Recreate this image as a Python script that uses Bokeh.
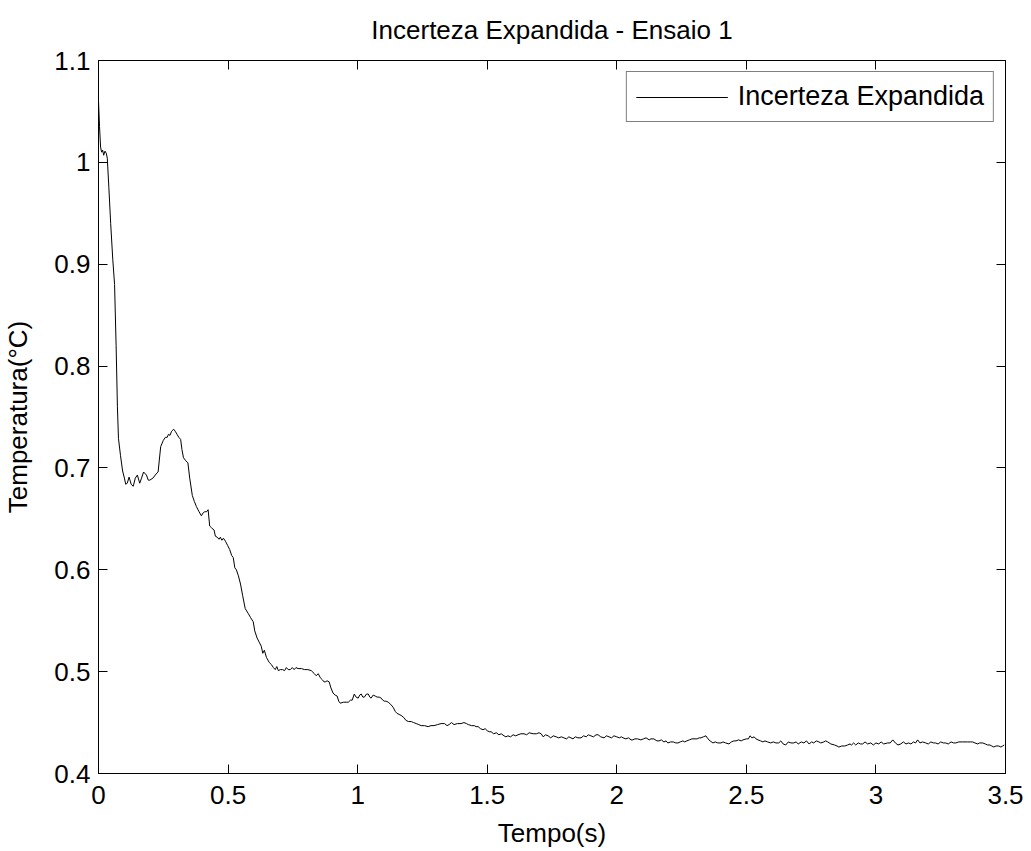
from bokeh.plotting import figure
from bokeh.models import Range1d, LinearAxis, FixedTicker, Legend, LegendItem, CustomLabelingPolicy
from bokeh.embed import file_html
from bokeh.resources import INLINE

title_text = "Incerteza Expandida - Ensaio 1"
x_label = "Tempo(s)"
y_label = "Temperatura(°C)"
series_name = "Incerteza Expandida"

x_ticks = [0, 0.5, 1, 1.5, 2, 2.5, 3, 3.5]
x_tick_labels = ["0", "0.5", "1", "1.5", "2", "2.5", "3", "3.5"]
y_ticks = [0.4, 0.5, 0.6, 0.7, 0.8, 0.9, 1.0, 1.1]
y_tick_labels = ["0.4", "0.5", "0.6", "0.7", "0.8", "0.9", "1", "1.1"]

tempo = [
    0.000, 0.004, 0.008, 0.012, 0.016, 0.020, 0.025, 0.030, 0.034, 0.040,
    0.047, 0.055, 0.062, 0.068, 0.073, 0.077, 0.085, 0.093, 0.100, 0.105,
    0.111, 0.118, 0.126, 0.134, 0.142, 0.150, 0.159, 0.166, 0.174, 0.185,
    0.192, 0.198, 0.210, 0.222, 0.230, 0.240, 0.250, 0.258, 0.265, 0.270,
    0.276, 0.282, 0.290, 0.296, 0.303, 0.310, 0.317, 0.322, 0.328, 0.337,
    0.345, 0.352, 0.362, 0.370, 0.378, 0.388, 0.397, 0.404, 0.410, 0.417,
    0.423, 0.429, 0.437, 0.446, 0.451, 0.458, 0.465, 0.470, 0.476, 0.482,
    0.490, 0.498, 0.506, 0.514, 0.520, 0.526, 0.532, 0.540, 0.548, 0.556,
    0.566, 0.578, 0.587, 0.597, 0.603, 0.612, 0.620, 0.628, 0.634, 0.640,
    0.648, 0.659, 0.667, 0.675, 0.682, 0.688, 0.694, 0.702, 0.710, 0.718,
    0.725, 0.732, 0.740, 0.748, 0.755, 0.762, 0.770, 0.783, 0.795, 0.808,
    0.821, 0.833, 0.840, 0.848, 0.856, 0.864, 0.870, 0.875, 0.882, 0.890,
    0.897, 0.905, 0.913, 0.921, 0.927, 0.933, 0.945, 0.956, 0.964, 0.972,
    0.979, 0.987, 0.994, 1.002, 1.008, 1.014, 1.020, 1.026, 1.034, 1.041,
    1.047, 1.052, 1.060, 1.068, 1.075, 1.083, 1.091, 1.097, 1.103, 1.110,
    1.118, 1.127, 1.137, 1.145, 1.152, 1.160, 1.168, 1.178, 1.187, 1.197,
    1.207, 1.216, 1.226, 1.236, 1.245, 1.258, 1.272, 1.283, 1.295, 1.308,
    1.322, 1.335, 1.345, 1.353, 1.362, 1.372, 1.385, 1.399, 1.410, 1.420,
    1.427, 1.440, 1.450, 1.457, 1.465, 1.474, 1.484, 1.492, 1.500, 1.508,
    1.515, 1.525, 1.535, 1.545, 1.554, 1.565, 1.572, 1.580, 1.590, 1.600,
    1.610, 1.619, 1.630, 1.642, 1.652, 1.662, 1.677, 1.690, 1.700, 1.708,
    1.716, 1.725, 1.735, 1.745, 1.755, 1.766, 1.776, 1.786, 1.796, 1.806,
    1.815, 1.823, 1.831, 1.840, 1.850, 1.862, 1.872, 1.882, 1.890, 1.900,
    1.910, 1.920, 1.928, 1.938, 1.951, 1.960, 1.970, 1.980, 1.989, 2.000,
    2.010, 2.018, 2.024, 2.035, 2.045, 2.055, 2.062, 2.070, 2.080, 2.093,
    2.103, 2.113, 2.125, 2.132, 2.143, 2.155, 2.163, 2.172, 2.182, 2.190,
    2.197, 2.208, 2.218, 2.228, 2.236, 2.245, 2.255, 2.262, 2.270, 2.280,
    2.290, 2.298, 2.310, 2.318, 2.325, 2.334, 2.344, 2.352, 2.360, 2.371,
    2.380, 2.390, 2.402, 2.410, 2.420, 2.433, 2.442, 2.452, 2.460, 2.470,
    2.480, 2.487, 2.500, 2.508, 2.514, 2.522, 2.530, 2.537, 2.545, 2.555,
    2.564, 2.572, 2.582, 2.594, 2.604, 2.614, 2.625, 2.633, 2.642, 2.652,
    2.662, 2.672, 2.683, 2.692, 2.700, 2.712, 2.722, 2.732, 2.742, 2.752,
    2.760, 2.770, 2.780, 2.787, 2.799, 2.806, 2.814, 2.826, 2.840, 2.850,
    2.857, 2.868, 2.880, 2.891, 2.900, 2.906, 2.914, 2.922, 2.932, 2.940,
    2.949, 2.958, 2.968, 2.980, 2.990, 3.000, 3.011, 3.020, 3.030, 3.045,
    3.055, 3.065, 3.075, 3.085, 3.096, 3.106, 3.116, 3.126, 3.135, 3.145,
    3.153, 3.161, 3.170, 3.180, 3.192, 3.202, 3.212, 3.222, 3.230, 3.240,
    3.250, 3.260, 3.269, 3.279, 3.290, 3.300, 3.308, 3.320, 3.335, 3.354,
    3.365, 3.373, 3.382, 3.393, 3.400, 3.412, 3.422, 3.431, 3.440, 3.447,
    3.455, 3.463, 3.474, 3.482, 3.489, 3.495,
]

incerteza = [
    1.060, 1.035, 1.015, 1.010, 1.012, 1.007, 1.011, 1.009, 1.004, 0.975,
    0.940, 0.905, 0.880, 0.820, 0.760, 0.729, 0.712, 0.697, 0.690, 0.684,
    0.685, 0.691, 0.684, 0.682, 0.690, 0.693, 0.685, 0.690, 0.696, 0.693,
    0.688, 0.688, 0.690, 0.694, 0.696, 0.721, 0.727, 0.730, 0.730, 0.733,
    0.732, 0.736, 0.738, 0.736, 0.733, 0.730, 0.728, 0.718, 0.710, 0.707,
    0.705, 0.690, 0.673, 0.667, 0.662, 0.657, 0.653, 0.656, 0.657, 0.657,
    0.659, 0.643, 0.641, 0.639, 0.633, 0.632, 0.630, 0.632, 0.629, 0.631,
    0.628, 0.624, 0.620, 0.614, 0.612, 0.602, 0.600, 0.594, 0.586, 0.575,
    0.562, 0.557, 0.553, 0.549, 0.540, 0.533, 0.529, 0.525, 0.518, 0.521,
    0.514, 0.509, 0.507, 0.504, 0.502, 0.505, 0.501, 0.502, 0.502, 0.501,
    0.504, 0.502, 0.502, 0.504, 0.502, 0.504, 0.503, 0.503, 0.502, 0.502,
    0.501, 0.498, 0.496, 0.498, 0.494, 0.492, 0.490, 0.490, 0.491, 0.490,
    0.484, 0.479, 0.477, 0.476, 0.471, 0.469, 0.470, 0.470, 0.470, 0.472,
    0.472, 0.478, 0.475, 0.474, 0.477, 0.478, 0.475, 0.475, 0.478, 0.478,
    0.475, 0.474, 0.477, 0.476, 0.475, 0.475, 0.474, 0.472, 0.471, 0.471,
    0.470, 0.468, 0.465, 0.461, 0.459, 0.458, 0.457, 0.455, 0.452, 0.451,
    0.451, 0.450, 0.449, 0.448, 0.447, 0.447, 0.446, 0.447, 0.447, 0.448,
    0.449, 0.449, 0.447, 0.448, 0.450, 0.448, 0.449, 0.449, 0.450, 0.449,
    0.448, 0.447, 0.447, 0.446, 0.446, 0.444, 0.443, 0.444, 0.442, 0.441,
    0.441, 0.439, 0.440, 0.438, 0.439, 0.437, 0.436, 0.437, 0.436, 0.438,
    0.437, 0.438, 0.439, 0.439, 0.438, 0.440, 0.439, 0.439, 0.440, 0.439,
    0.436, 0.438, 0.437, 0.435, 0.437, 0.436, 0.435, 0.436, 0.435, 0.434,
    0.436, 0.435, 0.434, 0.436, 0.435, 0.435, 0.437, 0.436, 0.438, 0.437,
    0.436, 0.438, 0.438, 0.436, 0.435, 0.437, 0.436, 0.435, 0.437, 0.436,
    0.435, 0.436, 0.435, 0.434, 0.435, 0.433, 0.433, 0.434, 0.434, 0.433,
    0.434, 0.435, 0.433, 0.434, 0.434, 0.432, 0.432, 0.433, 0.431, 0.432,
    0.430, 0.431, 0.431, 0.430, 0.430, 0.431, 0.432, 0.431, 0.432, 0.433,
    0.434, 0.434, 0.434, 0.435, 0.435, 0.436, 0.437, 0.434, 0.432, 0.430,
    0.431, 0.430, 0.430, 0.431, 0.430, 0.429, 0.431, 0.432, 0.432, 0.433,
    0.432, 0.433, 0.434, 0.434, 0.437, 0.435, 0.436, 0.434, 0.433, 0.432,
    0.431, 0.432, 0.431, 0.430, 0.431, 0.430, 0.430, 0.432, 0.429, 0.428,
    0.431, 0.430, 0.430, 0.431, 0.429, 0.431, 0.430, 0.432, 0.429, 0.431,
    0.430, 0.432, 0.431, 0.430, 0.431, 0.432, 0.431, 0.429, 0.428, 0.427,
    0.426, 0.427, 0.427, 0.428, 0.429, 0.428, 0.430, 0.428, 0.430, 0.429,
    0.429, 0.431, 0.429, 0.430, 0.428, 0.430, 0.429, 0.431, 0.429, 0.430,
    0.430, 0.433, 0.430, 0.428, 0.429, 0.431, 0.429, 0.430, 0.429, 0.431,
    0.430, 0.433, 0.430, 0.431, 0.430, 0.429, 0.431, 0.430, 0.430, 0.429,
    0.431, 0.430, 0.430, 0.429, 0.431, 0.430, 0.430, 0.431, 0.431, 0.431,
    0.431, 0.431, 0.430, 0.429, 0.430, 0.430, 0.429, 0.428, 0.428, 0.427,
    0.426, 0.427, 0.427, 0.426, 0.427, 0.428,
]

FONT = "Liberation Sans"

p = figure(
    width=1031, height=851,
    output_backend="svg", toolbar_location=None,
    x_range=Range1d(0, 3.5), y_range=Range1d(0.4, 1.1),
    min_border_left=98, min_border_right=26, min_border_top=58, min_border_bottom=78,
    background_fill_color="white", border_fill_color="white",
)

p.title.text = title_text
p.title.align = "center"
p.title.vertical_align = "top"
p.title.text_font = FONT
p.title.text_font_size = "26px"
p.title.text_font_style = "normal"
p.title.text_color = "black"
p.title.standoff = 28

p.grid.visible = False
p.outline_line_color = "black"
p.outline_line_width = 1

hide_labels = CustomLabelingPolicy(code="""
    const all = [...indices]
    for (const i of all) indices.unset(i)
    return indices
""")

def style_axis(ax, ticks, labels, show_labels=True):
    ax.ticker = FixedTicker(ticks=ticks)
    ax.major_label_overrides = {t: l for t, l in zip(ticks, labels)}
    ax.major_tick_in = 9
    ax.major_tick_out = 0
    ax.minor_tick_in = 0
    ax.minor_tick_out = 0
    ax.axis_line_color = "black"
    ax.major_tick_line_color = "black"
    ax.major_label_text_font = FONT
    ax.major_label_text_color = "black"
    if show_labels:
        ax.major_label_text_font_size = "26px"
    else:
        ax.major_label_text_font_size = "0px"
        ax.major_label_policy = hide_labels
        ax.major_label_standoff = 0

style_axis(p.xaxis[0], x_ticks, x_tick_labels)
style_axis(p.yaxis[0], y_ticks, y_tick_labels)
p.xaxis[0].major_label_standoff = 12
p.yaxis[0].major_label_standoff = 8

p.xaxis[0].axis_label = x_label
p.yaxis[0].axis_label = y_label
for ax in (p.xaxis[0], p.yaxis[0]):
    ax.axis_label_text_font = FONT
    ax.axis_label_text_font_size = "26px"
    ax.axis_label_text_font_style = "normal"
    ax.axis_label_text_color = "black"
p.xaxis[0].axis_label_standoff = 11
p.yaxis[0].axis_label_standoff = 18

top_ax = LinearAxis()
right_ax = LinearAxis()
style_axis(top_ax, x_ticks, x_tick_labels, show_labels=False)
style_axis(right_ax, y_ticks, y_tick_labels, show_labels=False)
p.add_layout(top_ax, "above")
p.add_layout(right_ax, "right")

r = p.line(tempo, incerteza, line_color="black", line_width=1)

legend = Legend(
    items=[LegendItem(label=series_name, renderers=[r])],
    location="top_right",
    border_line_color="black",
    border_line_width=1,
    background_fill_color="white",
    background_fill_alpha=1,
    label_text_font=FONT,
    label_text_font_size="27px",
    label_text_color="black",
    glyph_width=92,
    glyph_height=28,
    label_standoff=10,
    padding=9,
    margin=11,
)
p.add_layout(legend)

open("out.html", "w").write(file_html(p, INLINE))
